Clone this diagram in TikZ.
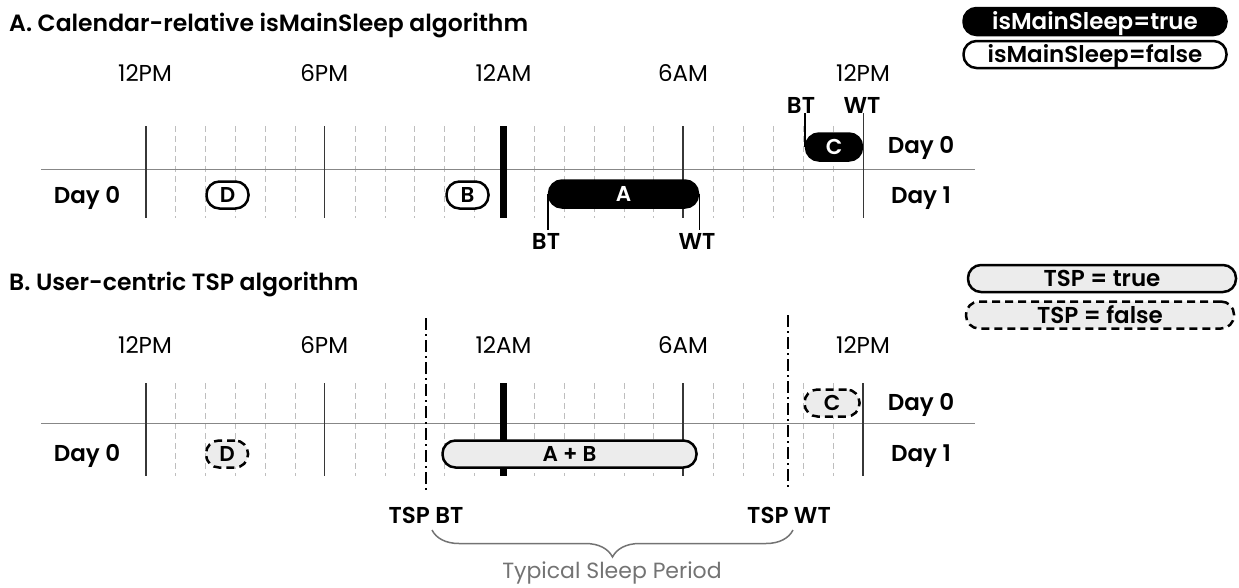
\documentclass[tikz,border=0pt]{standalone}
\usepackage{fontspec}
\setmainfont{Poppins}[BoldFont={Poppins SemiBold}]
\usepackage{xcolor}
\usepackage{tikz}
\usetikzlibrary{calc,positioning,decorations.pathreplacing}
\definecolor{gridMajor}{RGB}{55,55,55}
\definecolor{gridMinor}{RGB}{190,190,190}
\definecolor{axisGray}{RGB}{135,135,135}
\definecolor{tspFill}{RGB}{236,236,236}
\definecolor{braceGray}{RGB}{115,115,115}
\tikzset{
  title/.style={font=\fontsize{23.5}{28}\selectfont\bfseries, anchor=base west, inner sep=0pt},
  hourlbl/.style={font=\fontsize{23}{27}\selectfont, anchor=base},
  daylbl/.style={font=\fontsize{23}{27}\selectfont\bfseries, anchor=base},
  pill/.style={rounded corners=13pt, line width=2.5pt, minimum height=27pt,
    inner sep=0pt, text height=15pt, text depth=0pt,
    font=\fontsize{21.5}{26}\selectfont\bfseries},
  legendpill/.style={font=\fontsize{23}{27}\selectfont\bfseries, text height=16pt},
  mainsleep/.style={pill, fill=black, draw=black, text=white},
  nomainsleep/.style={pill, fill=white, draw=black},
  tsptrue/.style={pill, fill=tspFill, draw=black},
  tspfalse/.style={pill, fill=tspFill, draw=black, dash pattern=on 8pt off 5pt},
  minorline/.style={gridMinor, line width=1pt, dash pattern=on 6pt off 4pt},
  majorline/.style={gridMajor, line width=1.5pt},
  midnight/.style={black, line width=7pt},
  axisline/.style={axisGray, line width=1.8pt},
  tickline/.style={black, line width=1.5pt},
  tspline/.style={black, line width=2.5pt, dash pattern=on 12pt off 4pt on 2pt off 4pt},
}

\begin{document}
\begin{tikzpicture}[x=1pt, y=-1pt]
  \useasboundingbox (0,0) rectangle (1239,587);

  % Panel A: calendar-relative
  \node[title] (titleA) at (9,31.5) {A. Calendar-relative isMainSleep algorithm};
  \node[hourlbl] (aNoon)  at (145,81.5)   {12PM};
  \node[hourlbl] (aEve)   at (324.25,81.5) {6PM};
  \node[hourlbl] (aMid)   at (503.5,81.5) {12AM};
  \node[hourlbl] (aMorn)  at (683,81.5)   {6AM};
  \node[hourlbl] (aNoonB) at (863,81.5)   {12PM};
  \foreach \h in {1,2,3,4,5,7,8,9,10,11,13,14,15,16,17,19,20,21,22,23}
    \draw[minorline] ({146+29.875*\h},126) -- ({146+29.875*\h},218);
  \draw[axisline] (41,169.5) -- (975,169.5);
  \foreach \x in {146,324.25,683}
    \draw[majorline] (\x,126) -- (\x,218);
  \draw[midnight] (503.5,126) -- (503.5,218);
  \coordinate (aBase) at (0,218);

  \node[nomainsleep, minimum width=42pt] (sleepD) at (227.5,195) {D};
  \node[nomainsleep, minimum width=42pt] (sleepB) at (467.5,195) {B};
  \node[mainsleep, minimum width=149pt] (sleepA) at (623.5,194) {A};
  \node[mainsleep, minimum width=56pt] (sleepC) at (834,147) {C};

  \node[daylbl] (aDay0)  at (87,203)  {Day 0};
  \node[daylbl] (aDay0r) at (921,153) {Day 0};
  \node[daylbl] (aDay1r) at (921,203) {Day 1};
  \node[daylbl] (btA) at (546,249.5) {BT};
  \node[daylbl] (wtA) at (697,249.5) {WT};
  \node[daylbl, inner sep=0pt] (btC) at (801,113) {BT};
  \node[daylbl, inner sep=0pt] (wtC) at (862,113) {WT};
  \draw[tickline] (sleepA.west) -- (sleepA.west |- btA.north);
  \draw[tickline] (sleepA.east) -- (sleepA.east |- wtA.north);
  \draw[tickline] (sleepC.west) -- (sleepC.west |- btC.south);
  \draw[majorline] (sleepC.east |- wtC.south) -- (sleepC.east |- aBase);

  % Legend A
  \node[mainsleep, legendpill, minimum width=263pt] (legTrue) at (1095,21.5) {isMainSleep=true};
  \node[nomainsleep, legendpill, minimum width=263pt] (legFalse) at (1095,54.5) {isMainSleep=false};

  % Panel B: user-centric TSP
  \node[title] (titleB) at (9,290) {B. User-centric TSP algorithm};
  \node[hourlbl] (bNoon)  at (145,353)   {12PM};
  \node[hourlbl] (bEve)   at (324.25,353) {6PM};
  \node[hourlbl] (bMid)   at (503.5,353) {12AM};
  \node[hourlbl] (bMorn)  at (683,353)   {6AM};
  \node[hourlbl] (bNoonB) at (863,353)   {12PM};
  \foreach \h in {1,2,3,4,5,7,8,9,10,11,13,14,15,16,17,19,20,21,22,23}
    \draw[minorline] ({146+29.875*\h},383) -- ({146+29.875*\h},476);
  \draw[axisline] (41,423.5) -- (975,423.5);
  \foreach \x in {146,324.25,683,863}
    \draw[majorline] (\x,383) -- (\x,476);
  \draw[midnight] (503.5,383) -- (503.5,476);

  % TSP bounds
  \coordinate (btTop) at (426,318);
  \coordinate (btBot) at (426,490);
  \coordinate (wtTop) at (788,315);
  \coordinate (wtBot) at (788,488);
  \draw[tspline] (btTop) -- (btBot);
  \draw[tspline] (wtTop) -- (wtBot);

  \node[tspfalse, minimum width=42pt] (tspD) at (227,454) {D};
  \node[tsptrue, minimum width=254pt] (tspAB) at (569.5,454) {A + B};
  \node[tspfalse, minimum width=55pt] (tspC) at (832,403) {C};

  \node[daylbl] (bDay0)  at (87,461.5)  {Day 0};
  \node[daylbl] (bDay0r) at (921,410) {Day 0};
  \node[daylbl] (bDay1r) at (921,461) {Day 1};
  \node[daylbl] (tspBT) at (426,523) {TSP BT};
  \node[daylbl] (tspWT) at (789,523) {TSP WT};

  % Typical sleep period brace
  \coordinate (braceL) at (432,530);
  \coordinate (braceR) at (793,530);
  \draw[braceGray, line width=1.5pt, decorate,
    decoration={brace, mirror, amplitude=27pt}] (braceL) -- (braceR);
  \node[hourlbl, text=braceGray, inner sep=0pt, font=\fontsize{22}{26}\selectfont] (typical) at (612,578.5) {Typical Sleep Period};

  % Legend B
  \node[tsptrue, legendpill, minimum width=268pt] (legTsp) at (1102,278.5) {TSP = true};
  \node[tspfalse, legendpill, minimum width=268pt] (legNoTsp) at (1100,315) {TSP = false};
\end{tikzpicture}
\end{document}
